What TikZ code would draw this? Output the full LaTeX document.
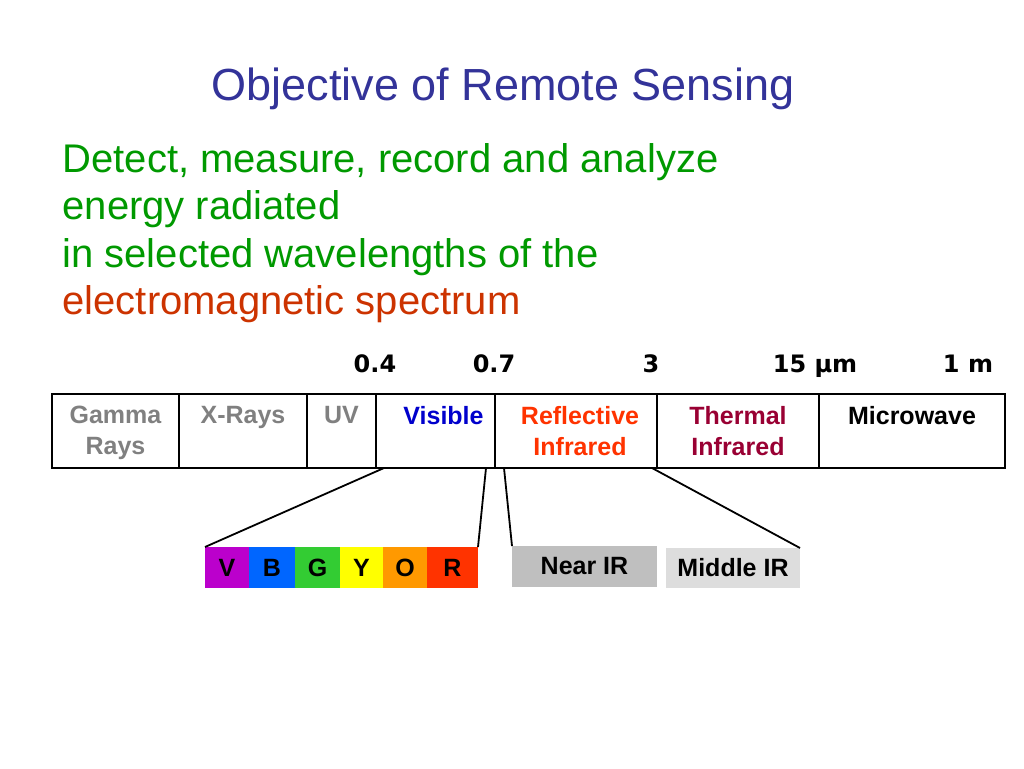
\documentclass[tikz,border=0pt]{standalone}
\usepackage{fontspec}
\setmainfont{Liberation Sans}
\newfontfamily\numfont{DejaVu Sans}
\usetikzlibrary{positioning}
\definecolor{titleblue}{RGB}{51,51,153}
\definecolor{txtgreen}{RGB}{0,153,0}
\definecolor{txtred}{RGB}{204,51,0}
\definecolor{raygray}{RGB}{128,128,128}
\definecolor{visblue}{RGB}{0,0,204}
\definecolor{reflred}{RGB}{255,51,0}
\definecolor{thermred}{RGB}{153,0,51}
\definecolor{cv}{RGB}{187,0,204}
\definecolor{cb}{RGB}{0,102,255}
\definecolor{cg}{RGB}{51,204,51}
\definecolor{cy}{RGB}{255,255,0}
\definecolor{co}{RGB}{255,153,0}
\definecolor{cr}{RGB}{255,51,0}
\definecolor{nearir}{RGB}{191,191,191}
\definecolor{midir}{RGB}{221,221,221}
\begin{document}
\begin{tikzpicture}[x=1pt,y=-1pt,line join=miter,
  cell/.style={draw,line width=2.6pt,minimum height=74pt,inner sep=0pt,outer sep=0pt,anchor=west},
  band/.style={font=\bfseries\fontsize{25}{31}\selectfont,align=center,inner sep=0pt,anchor=north,yshift=-12pt},
  swatch/.style={minimum height=41pt,inner sep=0pt,outer sep=0pt,font=\bfseries\fontsize{25}{30}\selectfont},
  nums/.style={anchor=base,font=\numfont\bfseries\fontsize{24}{29}\selectfont},
  body/.style={anchor=base west,font=\fontsize{40}{47}\selectfont,text=txtgreen},
  conn/.style={line width=1.8pt}]
\useasboundingbox (0,0) rectangle (1024,768);
\node[anchor=base,font=\fontsize{45}{54}\selectfont,text=titleblue] (title) at (503,100) {Objective of Remote Sensing};
\node[body] (l1) at (59,172) {Detect, measure, record and analyze};
\node[body] (l2) at (59,219) {energy radiated};
\node[body] (l3) at (59,267) {in selected wavelengths of the};
\node[body,text=txtred] (l4) at (59,314) {electromagnetic spectrum};
\node[nums] (n1) at (375,372) {0.4};
\node[nums] (n2) at (494,372) {0.7};
\node[nums] (n3) at (651,372) {3};
\node[nums] (n4) at (815,372) {15 µm};
\node[nums] (n5) at (968,372) {1 m};
\node[cell,minimum width=127pt,label={[band,text=raygray]north:Gamma\\Rays}] (gamma) at (52,431) {};
\node[cell,minimum width=128pt,right=0pt of gamma,label={[band,text=raygray]north:X-Rays}] (xray) {};
\node[cell,minimum width=69pt,right=0pt of xray,label={[band,text=raygray]north:UV}] (uv) {};
\node[cell,minimum width=119pt,right=0pt of uv,label={[band,text=visblue,xshift=8pt]north:Visible}] (vis) {};
\node[cell,minimum width=162pt,right=0pt of vis,label={[band,text=reflred,xshift=4pt]north:Reflective\\Infrared}] (refl) {};
\node[cell,minimum width=162pt,right=0pt of refl,label={[band,text=thermred]north:Thermal\\Infrared}] (therm) {};
\node[cell,minimum width=186pt,right=0pt of therm,label={[band]north:Microwave}] (micro) {};
\node[swatch,fill=cv,minimum width=44pt,anchor=west] (sv) at (205,567.5) {V};
\node[swatch,fill=cb,minimum width=46pt,right=0pt of sv] (sb) {B};
\node[swatch,fill=cg,minimum width=45pt,right=0pt of sb] (sg) {G};
\node[swatch,fill=cy,minimum width=43pt,right=0pt of sg] (sy) {Y};
\node[swatch,fill=co,minimum width=44pt,right=0pt of sy] (so) {O};
\node[swatch,fill=cr,minimum width=51pt,right=0pt of so] (sr) {R};
\node[swatch,fill=nearir,minimum width=145pt,anchor=west] (nir) at (512,566.5) {Near IR};
\node[swatch,fill=midir,minimum width=134pt,minimum height=40pt,anchor=west] (mir) at (666,568) {Middle IR};
\draw[conn] ([xshift=8pt]vis.south west) -- (sv.north west);
\draw[conn] ([xshift=-9pt]vis.south east) -- (sr.north east);
\draw[conn] ([xshift=9pt]refl.south west) -- (nir.north west);
\draw[conn] ([xshift=-5pt]refl.south east) -- (mir.north east);
\end{tikzpicture}
\end{document}
